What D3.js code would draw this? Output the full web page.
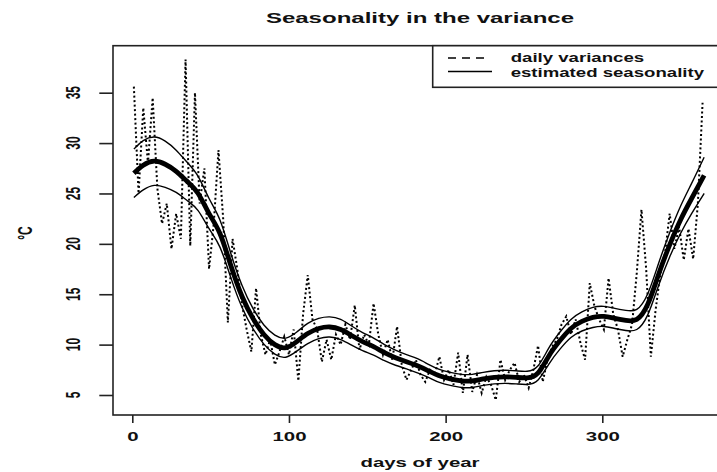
<!DOCTYPE html>
<html>
<head>
<meta charset="utf-8">
<script src="https://cdn.jsdelivr.net/npm/d3@7"></script>
<style>
body{margin:0;background:#fff;}
svg{display:block;font-family:"Liberation Sans",Arial,sans-serif;}
</style>
</head>
<body>
<script>
var width=717;
var height=472;
var stretch=1.7; // the original plot is stretched sideways

// daily variances, one value every 3rd day starting at day 1
var dailyStep=3;
var dailyVar=[35.6,25.0,33.5,28.0,34.5,25.5,22.0,24.0,19.5,23.0,
    20.5,38.3,19.8,35.0,24.0,27.5,17.5,22.0,29.3,22.5,
    12.2,20.5,17.5,14.0,11.5,9.3,15.6,11.0,9.0,10.5,
    8.0,9.3,10.8,9.0,11.5,6.4,13.0,16.9,12.5,11.5,
    8.3,10.5,8.5,11.0,10.0,12.0,10.5,13.9,9.5,11.0,
    10.0,14.1,11.0,9.0,10.5,8.5,11.8,8.0,6.5,7.5,
    8.5,7.0,6.3,7.5,7.0,8.8,6.5,7.5,6.0,9.2,
    5.2,9.0,5.3,7.0,5.2,6.8,6.0,4.5,8.5,6.5,
    7.5,8.2,6.3,7.0,5.7,7.5,9.9,6.3,8.5,9.8,
    10.5,12.0,12.8,11.0,12.5,10.2,8.5,16.1,13.8,12.5,
    11.5,16.6,13.0,11.5,8.8,10.5,12.0,17.1,23.4,17.5,
    8.8,13.4,17.0,19.0,23.0,19.5,21.7,18.4,21.5,18.5,
    24.0,34.0];

// estimated seasonality with its band
var seasonDays=[1,7,14,21,28,35,42,49,56,63,70,77,84,91,98,105,112,119,126,133,
    140,147,154,161,168,175,182,189,196,203,210,217,224,231,238,245,252,259,266,273,
    280,287,294,301,308,315,322,329,336,343,350,357,365];
var seasonMid=[27.0,27.8,28.2,27.9,27.2,26.2,25.0,23.0,21.0,17.8,14.8,12.6,11.0,10.0,9.7,10.3,11.1,11.6,11.75,11.5,
    10.9,10.3,9.8,9.2,8.7,8.3,7.9,7.4,6.9,6.6,6.4,6.4,6.6,6.75,6.8,6.75,6.7,7.2,8.9,10.4,
    11.6,12.3,12.7,12.8,12.6,12.4,12.5,14.0,17.0,19.9,22.4,24.5,26.8];
var seasonUp=[29.4,30.25,30.6,30.2,29.3,28.1,26.7,24.5,22.35,19.0,15.9,13.6,11.95,10.95,10.65,11.25,12.1,12.6,12.75,12.5,
    11.85,11.2,10.65,10.0,9.45,9.0,8.6,8.05,7.55,7.25,7.05,7.05,7.25,7.4,7.45,7.4,7.35,7.9,9.7,11.25,
    12.5,13.25,13.7,13.8,13.6,13.4,13.5,15.05,18.1,21.1,23.75,26.0,28.6];
var seasonLow=[24.6,25.35,25.8,25.6,25.1,24.3,23.3,21.5,19.65,16.6,13.7,11.6,10.05,9.05,8.75,9.35,10.1,10.6,10.75,10.5,
    9.95,9.4,8.95,8.4,7.95,7.6,7.2,6.75,6.25,5.95,5.75,5.75,5.95,6.1,6.15,6.1,6.05,6.5,8.1,9.55,
    10.7,11.35,11.7,11.8,11.6,11.4,11.5,12.95,15.9,18.7,21.05,23.0,25.0];

var xTicks=[0,100,200,300];
var yTicks=[5,10,15,20,25,30,35];
var legendLabels=["daily variances","estimated seasonality"];

var svg=d3.select("body").append("svg").attr("width",width).attr("height",height);

var x=d3.scaleLinear().domain([0,300]).range([132.3,602.3]);
var y=d3.scaleLinear().domain([5,35]).range([395,92.7]);
var box={left:113,right:727,top:45.7,bottom:415};

function widen(sel,k){
    sel.each(function(){
        var len=this.getComputedTextLength();
        d3.select(this).attr("textLength",len*k).attr("lengthAdjust","spacingAndGlyphs");
    });
}

// daily variances (dotted)
var dailyLine=d3.line()
    .x(function(d,i){return x(1+i*dailyStep);})
    .y(function(d){return y(d);});
svg.append("path").datum(dailyVar)
    .attr("d",dailyLine)
    .attr("fill","none").attr("stroke","#000")
    .attr("stroke-width",2).attr("stroke-dasharray","2,2.5");

// seasonality curves
var seasonLine=d3.line()
    .x(function(d,i){return x(seasonDays[i]);})
    .y(function(d){return y(d);})
    .curve(d3.curveNatural);
[seasonUp,seasonLow].forEach(function(s){
    svg.append("path").datum(s)
        .attr("d",seasonLine)
        .attr("fill","none").attr("stroke","#000").attr("stroke-width",1.4);
});
svg.append("path").datum(seasonMid)
    .attr("d",seasonLine)
    .attr("fill","none").attr("stroke","#000").attr("stroke-width",4.8);

// frame
svg.append("rect")
    .attr("x",box.left).attr("y",box.top)
    .attr("width",box.right-box.left).attr("height",box.bottom-box.top)
    .attr("fill","none").attr("stroke","#222").attr("stroke-width",1.6);

// x axis
var gx=svg.append("g").attr("transform","translate(0,"+box.bottom+")")
    .call(d3.axisBottom(x).tickValues(xTicks).tickSize(8));
gx.select(".domain").remove();
gx.selectAll("line").attr("stroke","#222").attr("stroke-width",1.6);
gx.selectAll("text").attr("y",26).attr("dy",null)
    .attr("font-size",12).attr("font-weight","bold").attr("fill","#111")
    .attr("font-family","Liberation Sans, Arial, sans-serif");
widen(gx.selectAll("text"),stretch);

// y axis
var gy=svg.append("g").attr("transform","translate("+box.left+",0)")
    .call(d3.axisLeft(y).tickValues(yTicks).tickSize(13.7).tickFormat(""));
gy.select(".domain").remove();
gy.selectAll("line").attr("stroke","#222").attr("stroke-width",1.6);
svg.selectAll(".ylab").data(yTicks).enter().append("text")
    .attr("class","ylab")
    .attr("transform",function(d){return "translate(80,"+y(d)+") scale("+stretch+",1) rotate(-90)";})
    .attr("text-anchor","middle")
    .attr("font-size",12).attr("font-weight","bold").attr("fill","#111")
    .text(function(d){return d;});

// titles
var title=svg.append("text").attr("x",420).attr("y",22.5)
    .attr("text-anchor","middle").attr("font-size",15).attr("font-weight","bold").attr("fill","#111")
    .text("Seasonality in the variance");
widen(title,1.6);
var xlab=svg.append("text").attr("x",420).attr("y",467)
    .attr("text-anchor","middle").attr("font-size",12).attr("font-weight","bold").attr("fill","#111")
    .text("days of year");
widen(xlab,stretch);
svg.append("text")
    .attr("transform","translate(31.5,233) scale("+stretch+",1) rotate(-90)")
    .attr("text-anchor","middle").attr("font-size",12).attr("font-weight","bold").attr("fill","#111")
    .text("°C");

// legend
svg.append("rect")
    .attr("x",432.7).attr("y",box.top).attr("width",300).attr("height",41.6)
    .attr("fill","#fff").attr("stroke","#222").attr("stroke-width",1.6);
svg.append("line").attr("x1",448).attr("x2",484).attr("y1",58).attr("y2",58)
    .attr("stroke","#000").attr("stroke-width",1.3).attr("stroke-dasharray","8,6");
svg.append("line").attr("x1",448).attr("x2",492).attr("y1",71.5).attr("y2",71.5)
    .attr("stroke","#000").attr("stroke-width",1.3);
var leg=svg.selectAll(".leg").data(legendLabels).enter().append("text")
    .attr("class","leg")
    .attr("x",510.7).attr("y",function(d,i){return 61.5+i*15;})
    .attr("font-size",12).attr("font-weight","bold").attr("fill","#111")
    .text(function(d){return d;});
widen(leg,1.55);
</script>
</body>
</html>
